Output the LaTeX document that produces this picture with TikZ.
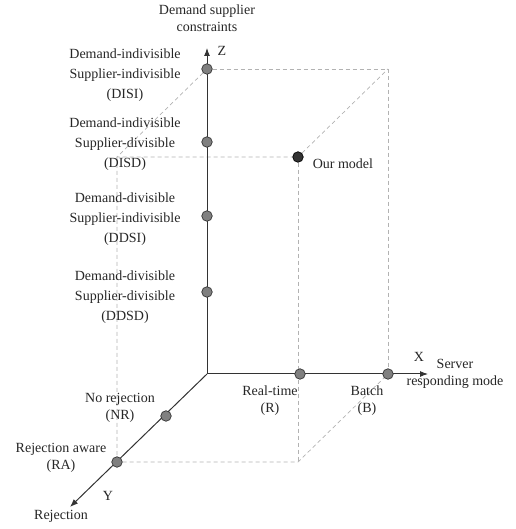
\documentclass[tikz,border=0pt]{standalone}
\usepackage{fontspec}
\setmainfont{Liberation Serif}
\usetikzlibrary{arrows.meta, positioning, backgrounds}
\tikzset{
    dot/.style={circle, draw=black!80, fill=black!50, line width=0.7pt, minimum size=10.5pt, inner sep=0pt},
    ourdot/.style={dot, draw=black, fill=black!80},
    axis/.style={line width=1pt, draw=black!80, ->, >={Latex[length=8pt, width=6pt]}},
    guide/.style={draw=black!30, line width=0.7pt, dash pattern=on 4pt off 3pt},
    sidetext/.style={align=center, text=black!85, font=\fontsize{14}{20}\selectfont, inner sep=0pt},
    axistext/.style={align=center, text=black!85, font=\fontsize{14}{17}\selectfont, inner sep=0pt}
}

\begin{document}
\begin{tikzpicture}[x=1pt, y=1pt]
\useasboundingbox (-207,-155) rectangle (308,374);

% Axis ends and box corners
\coordinate (O) at (0,0);
\coordinate (ztip) at (0,326);
\coordinate (xtip) at (221,0);
\coordinate (ytip) at (-137,-133);
\coordinate (backtop) at (181,305);
\coordinate (fronttop) at (-90,217);
\coordinate (frontbot) at (91,-88);

% Nodes
\node (disi) [dot] at (0,305) {};
\node (disd) [dot] at (0,232) {};
\node (ddsi) [dot] at (0,158) {};
\node (ddsd) [dot] at (0,82) {};
\node (rt) [dot] at (93,0) {};
\node (bt) [dot] at (181,0) {};
\node (nr) [dot] at (-41,-42) {};
\node (ra) [dot] at (-90,-88) {};
\node (ours) [ourdot] at (91,217) {};

% Labels
\node (ztitle) [axistext] at ([yshift=30pt]ztip) {Demand supplier\\constraints};
\node (zname) [axistext] at ([xshift=15pt, yshift=-3pt]ztip) {Z};
\node (disilab) [sidetext] at ([xshift=-82pt, yshift=-6pt]disi) {Demand-indivisible\\Supplier-indivisible\\(DISI)};
\node (disdlab) [sidetext] at ([xshift=-82pt, yshift=-2pt]disd) {Demand-indivisible\\Supplier-divisible\\(DISD)};
\node (ddsilab) [sidetext] at ([xshift=-82pt, yshift=-3pt]ddsi) {Demand-divisible\\Supplier-indivisible\\(DDSI)};
\node (ddsdlab) [sidetext] at ([xshift=-82pt, yshift=-5pt]ddsd) {Demand-divisible\\Supplier-divisible\\(DDSD)};
\node (ourlab) [axistext, right=9pt of ours, yshift=-7pt] {Our model};
\node (rtlab) [axistext] at ([xshift=-30pt, yshift=-27pt]rt) {Real-time\\(R)};
\node (btlab) [axistext] at ([xshift=-21pt, yshift=-27pt]bt) {Batch\\(B)};
\node (xname) [axistext] at ([xshift=-9pt, yshift=17pt]xtip) {X};
\node (xtitle) [axistext] at ([xshift=27pt]xtip) {Server\\responding mode};
\node (nrlab) [axistext] at ([xshift=-46pt, yshift=8pt]nr) {No rejection\\(NR)};
\node (ralab) [axistext] at ([xshift=-56pt, yshift=4pt]ra) {Rejection aware\\(RA)};
\node (yname) [axistext] at ([xshift=38pt, yshift=11pt]ytip) {Y};
\node (ytitle) [axistext] at ([xshift=-9pt, yshift=-9pt]ytip) {Rejection};

% Connectors
\begin{scope}[on background layer]
\draw [guide] (disi) -- (backtop) -- (bt);
\draw [guide] (disi) -- (fronttop) -- (ours) -- (backtop);
\draw [guide] (fronttop) -- (ra) -- (frontbot) -- (bt);
\draw [guide] (ours) -- (frontbot);
\draw [axis] (O) -- (ztip);
\draw [axis] (O) -- (xtip);
\draw [axis] (O) -- (ytip);
\end{scope}

\end{tikzpicture}
\end{document}
